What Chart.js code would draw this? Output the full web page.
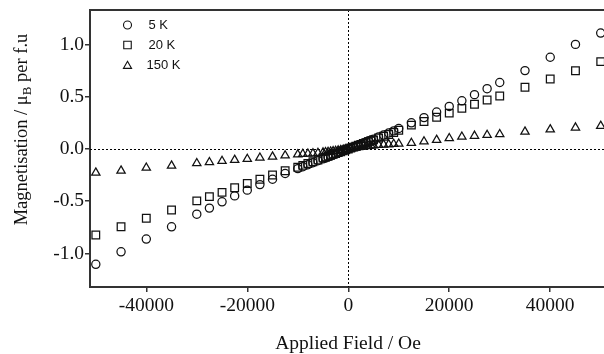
<!DOCTYPE html>
<html><head><meta charset="utf-8">
<script src="https://cdn.jsdelivr.net/npm/chart.js@4.4.1/dist/chart.umd.min.js"></script>
<style>html,body{margin:0;padding:0;background:#fff;}#wrap{width:604px;height:354px;position:relative;}</style>
</head><body><div id="wrap"><canvas id="c" width="604" height="354"></canvas></div>
<script>
const fieldOe = [-50000,-45000,-40000,-35000,-30000,-27500,-25000,-22500,-20000,-17500,-15000,-12500,
  -10000,-9000,-8000,-7000,-6000,-5000,
  -4500,-4000,-3500,-3000,-2500,-2000,-1500,-1000,-500,
  0,
  500,1000,1500,2000,2500,3000,3500,4000,4500,
  5000,6000,7000,8000,9000,10000,
  12500,15000,17500,20000,22500,25000,27500,30000,35000,40000,45000,50000];
const m5K = [-1.104,-0.984,-0.862,-0.745,-0.624,-0.566,-0.506,-0.449,-0.394,-0.341,-0.290,-0.235,
  -0.188,-0.170,-0.151,-0.131,-0.113,-0.094,
  -0.084,-0.076,-0.066,-0.056,-0.047,-0.037,-0.028,-0.019,-0.010,
  0,
  0.010,0.019,0.028,0.037,0.047,0.056,0.066,0.076,0.084,
  0.094,0.114,0.133,0.153,0.173,0.196,
  0.250,0.300,0.353,0.407,0.461,0.520,0.577,0.636,0.750,0.878,1.001,1.109];
const m20K = [-0.823,-0.744,-0.663,-0.584,-0.497,-0.456,-0.415,-0.371,-0.330,-0.290,-0.249,-0.209,
  -0.175,-0.157,-0.139,-0.122,-0.105,-0.087,
  -0.078,-0.070,-0.061,-0.052,-0.043,-0.035,-0.026,-0.018,-0.009,
  0,
  0.009,0.018,0.026,0.035,0.043,0.052,0.061,0.070,0.078,
  0.087,0.105,0.122,0.139,0.157,0.179,
  0.228,0.263,0.303,0.343,0.389,0.428,0.469,0.507,0.591,0.670,0.749,0.836];
const m150K = [-0.227,-0.208,-0.180,-0.160,-0.137,-0.128,-0.116,-0.105,-0.096,-0.084,-0.074,-0.063,
  -0.053,-0.049,-0.046,-0.043,-0.039,-0.035,
  -0.032,-0.029,-0.026,-0.023,-0.020,-0.016,-0.012,-0.008,-0.004,
  0,
  0.004,0.008,0.012,0.016,0.020,0.023,0.026,0.028,0.031,
  0.034,0.038,0.041,0.044,0.047,0.050,
  0.057,0.071,0.086,0.102,0.117,0.125,0.133,0.140,0.165,0.187,0.204,0.220];
const seriesLabels = ['5 K','20 K','150 K'];
const seriesStyles = ['circle','rect','triangle'];
const xTickValues = [-40000,-20000,0,20000,40000];
const yTickValues = [-1.0,-0.5,0.0,0.5,1.0];
const xTitle = 'Applied Field / Oe';
const yTitleParts = ['Magnetisation / μ','B',' per f.u'];

const INK = '#111';
const radii = {circle:4.1, rect:5.4, triangle:4.8};
const serif = '"Liberation Serif", "Times New Roman", serif';

function mk(vals){ return fieldOe.map((x,i)=>({x:x, y:vals[i]})); }
const seriesValues = [m5K, m20K, m150K];
const datasets = seriesValues.map((v,i)=>({
  label: seriesLabels[i], data: mk(v), showLine:false,
  pointStyle: seriesStyles[i], pointRadius: radii[seriesStyles[i]],
  pointBackgroundColor:'rgba(0,0,0,0)', pointBorderColor: INK, pointBorderWidth:1.25,
  pointHoverRadius: radii[seriesStyles[i]]
}));

const decor = {
  id:'decor',
  beforeDatasetsDraw(chart){
    const {ctx, chartArea:a, scales:{x,y}} = chart;
    ctx.save();
    ctx.strokeStyle = '#000'; ctx.lineWidth = 1; ctx.setLineDash([2,2]);
    const x0 = Math.round(x.getPixelForValue(0))+0.5;
    const y0 = Math.round(y.getPixelForValue(0))+0.5;
    ctx.beginPath(); ctx.moveTo(x0, a.top); ctx.lineTo(x0, a.bottom); ctx.stroke();
    ctx.beginPath(); ctx.moveTo(a.left, y0); ctx.lineTo(a.right, y0); ctx.stroke();
    ctx.setLineDash([]);
    ctx.strokeStyle = '#333'; ctx.lineWidth = 2;
    ctx.beginPath(); ctx.moveTo(a.left-1, a.top); ctx.lineTo(a.right, a.top); ctx.stroke();
    ctx.restore();
  },
  afterDraw(chart){
    const {ctx} = chart;
    ctx.save();
    const lx = 127.5, ly = [25,45,65];
    seriesLabels.forEach((lab,i)=>{
      ctx.save();
      ctx.fillStyle='rgba(0,0,0,0)'; ctx.strokeStyle=INK; ctx.lineWidth=1.1;
      Chart.helpers.drawPoint(ctx,{pointStyle:seriesStyles[i], radius:radii[seriesStyles[i]]-0.1, borderWidth:1.1, rotation:0}, lx, ly[i] + (seriesStyles[i]==='triangle'?1:0));
      ctx.restore();
      ctx.font = '13px "Liberation Sans", Arial, sans-serif';
      ctx.textBaseline='middle'; ctx.textAlign='left'; ctx.fillStyle=INK;
      ctx.fillText(lab, seriesStyles[i]==='triangle' ? 146.5 : 148.5, ly[i]);
    });
    ctx.font = '19.5px ' + serif;
    ctx.textAlign='center'; ctx.textBaseline='alphabetic'; ctx.fillStyle=INK;
    ctx.fillText(xTitle, 348, 349);
    const big = '18.5px ' + serif, small = '13px ' + serif;
    ctx.font = big; const w1 = ctx.measureText(yTitleParts[0]).width, w3 = ctx.measureText(yTitleParts[2]).width;
    ctx.font = small; const w2 = ctx.measureText(yTitleParts[1]).width;
    const total = w1+w2+w3;
    ctx.translate(26.5, 129.5 + total/2);
    ctx.rotate(-Math.PI/2);
    ctx.textAlign='left';
    ctx.font = big; ctx.fillText(yTitleParts[0], 0, 0);
    ctx.font = small; ctx.fillText(yTitleParts[1], w1, 4);
    ctx.font = big; ctx.fillText(yTitleParts[2], w1+w2, 0);
    ctx.restore();
  }
};

new Chart(document.getElementById('c'), {
  type:'scatter',
  data:{datasets},
  options:{
    responsive:false, animation:false, devicePixelRatio:1,
    layout:{autoPadding:false, padding:{top:10,right:0,left:0,bottom:0}},
    plugins:{legend:{display:false}, tooltip:{enabled:false}},
    scales:{
      x:{type:'linear', min:-51150, max:50650,
        afterBuildTicks:s=>{ s.ticks = xTickValues.map(v=>({value:v})); },
        afterFit:s=>{ s.height = 67; s.paddingLeft = 0; s.paddingRight = 0; },
        ticks:{font:{family:serif, size:19.5}, color:INK, padding:2, maxRotation:0, autoSkip:false, callback:v=>String(v)},
        grid:{display:true, drawOnChartArea:false, drawTicks:true, tickLength:5, color:'#333', lineWidth:1.5},
        border:{display:true, color:'#333', width:2}
      },
      y:{type:'linear', min:-1.321, max:1.330,
        afterBuildTicks:s=>{ s.ticks = yTickValues.map(v=>({value:v})); },
        afterFit:s=>{ s.width = 90; s.paddingTop = 0; s.paddingBottom = 0; },
        ticks:{font:{family:serif, size:19.5}, color:INK, padding:1, autoSkip:false, callback:v=>Number(v).toFixed(1)},
        grid:{display:true, drawOnChartArea:false, drawTicks:true, tickLength:5, color:'#333', lineWidth:1.5},
        border:{display:true, color:'#333', width:2}
      }
    }
  },
  plugins:[decor]
});
</script>
</body></html>
